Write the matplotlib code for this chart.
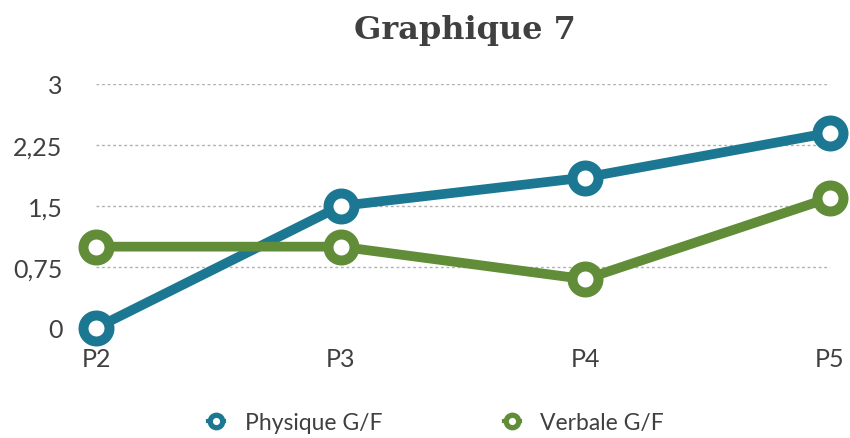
import matplotlib.pyplot as plt
from matplotlib.lines import Line2D
from matplotlib.ticker import FuncFormatter

categories = ["P2", "P3", "P4", "P5"]
physique = [0, 1.5, 1.85, 2.4]
verbale = [1, 1, 0.6, 1.6]
yticks = [0, 0.75, 1.5, 2.25, 3]

BLUE = "#1c7892"
GREEN = "#618c38"
TEXT = "#404040"

plt.rcParams['font.family'] = ['Lato', 'DejaVu Sans']

fig = plt.figure(figsize=(8.5, 4.39), dpi=100)
ax = fig.add_axes([0.113, 0.2506, 0.863, 0.5558])

x = range(len(categories))
for vals, col in [(physique, BLUE), (verbale, GREEN)]:
    ax.plot(x, vals, color=col, lw=7, marker="o", ms=18.7, mew=7.2,
            mfc="white", mec=col, clip_on=False, zorder=3)

ax.set_xlim(0, 3)
ax.set_ylim(0, 3)
ax.set_xticks(list(x))
ax.set_xticklabels(categories)
ax.set_yticks(yticks)
ax.yaxis.set_major_formatter(FuncFormatter(lambda v, p: ("%g" % v).replace(".", ",")))
ax.tick_params(length=0, labelsize=18, labelcolor=TEXT)
ax.tick_params(axis="y", pad=24)
ax.tick_params(axis="x", pad=14)
ax.grid(axis="y", color="#b0b0b0", ls=(0, (2, 2)), lw=1)
ax.yaxis.get_gridlines()[0].set_visible(False)
ax.set_axisbelow(True)
for s in ax.spines.values():
    s.set_visible(False)

fig.text(0.547, 0.93, "Graphique 7", ha="center", va="center",
         fontsize=23, fontweight="bold", color=TEXT, family="DejaVu Serif")

handles = [Line2D([], [], color=c, lw=3, marker="o", ms=9, mew=3.8, mfc="white", mec=c)
           for c in (BLUE, GREEN)]
fig.legend(handles, ["Physique G/F", "Verbale G/F"], loc="center",
           bbox_to_anchor=(0.513, 0.035), ncol=2, frameon=False,
           labelcolor=TEXT, handlelength=0.7, handletextpad=0.9, columnspacing=5.3,
           prop={"size": 16.5})

fig.savefig("out.png", dpi=100)
